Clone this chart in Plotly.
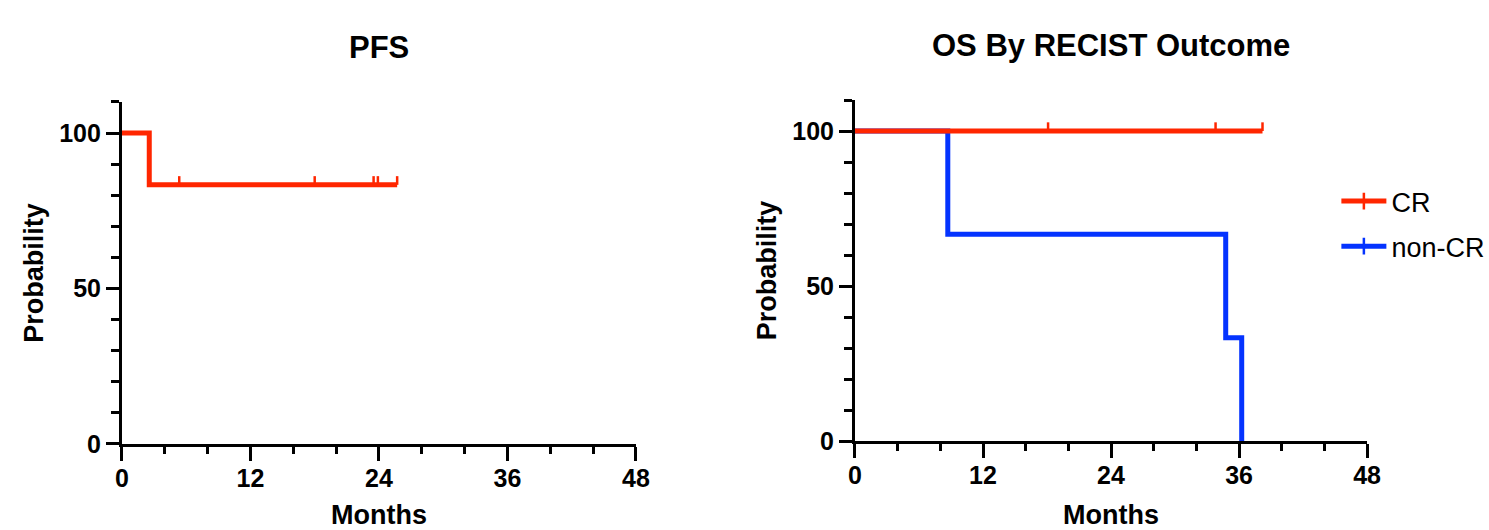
import plotly.graph_objects as go

# ---------------- data ----------------
pfs_time = [0, 2.55, 25.7]
pfs_surv = [100, 83.33, 83.33]
pfs_censor = [5.35, 18.0, 23.5, 23.9, 25.7]

os_cr_time = [0, 38.2]
os_cr_surv = [100, 100]
os_cr_censor = [18.1, 33.8, 38.2]

os_ncr_time = [0, 8.7, 34.75, 36.25]
os_ncr_surv = [100, 66.67, 33.33, 0]
os_ncr_censor = []

x_ticks = [0, 12, 24, 36, 48]
y_ticks = [0, 50, 100]

group_names = ["CR", "non-CR"]

# ---------------- style ----------------
RED = "#FF2600"
BLUE = "#0433FF"
FONT = "Arial, Liberation Sans, Helvetica, sans-serif"
CENSOR_H = 2.8  # height of censor tick in data units


def level_at(times, surv, t):
    lvl = surv[0]
    for tt, ss in zip(times, surv):
        if tt <= t:
            lvl = ss
    return lvl


def censor_segments(times, surv, cens):
    xs, ys = [], []
    for c in cens:
        s = level_at(times, surv, c)
        xs += [c, c, None]
        ys += [s, s + CENSOR_H, None]
    return xs, ys


fig = go.Figure()


def add_curve(times, surv, cens, color, xa, ya):
    fig.add_trace(go.Scatter(x=times, y=surv, mode="lines", line=dict(color=color, width=5, shape="hv"),
                             xaxis=xa, yaxis=ya, showlegend=False, hoverinfo="skip"))
    if cens:
        cx, cy = censor_segments(times, surv, cens)
        fig.add_trace(go.Scatter(x=cx, y=cy, mode="lines", line=dict(color=color, width=2.5),
                                 xaxis=xa, yaxis=ya, showlegend=False, hoverinfo="skip"))


# PFS
add_curve(pfs_time, pfs_surv, pfs_censor, RED, "x", "y")
# OS: non-CR first so CR is drawn on top
add_curve(os_ncr_time, os_ncr_surv, os_ncr_censor, BLUE, "x2", "y2")
add_curve(os_cr_time, os_cr_surv, os_cr_censor, RED, "x2", "y2")

# legend-only entries
for name, color in zip(group_names, [RED, BLUE]):
    fig.add_trace(go.Scatter(x=[None], y=[None], mode="lines+markers", name=name,
                             line=dict(color=color, width=5),
                             marker=dict(symbol="line-ns", size=12, line=dict(color=color, width=2.5)),
                             xaxis="x2", yaxis="y2", legendgroup=name))

axis_common = dict(
    showline=True, linecolor="black", linewidth=3,
    ticks="outside", tickcolor="black", tickwidth=3,
    showgrid=False, zeroline=False, fixedrange=True, automargin=False,
    tickfont=dict(family=FONT, size=25, color="black", weight="bold"),
)

xaxis_common = dict(axis_common, range=[0, 48], tickmode="array", tickvals=x_ticks, ticklen=14,
                    ticklabelstandoff=-4,
                    minor=dict(dtick=4, tick0=0, ticklen=7, tickwidth=3, tickcolor="black", ticks="outside"),
                    title=dict(text="Months", font=dict(family=FONT, size=27, color="black", weight="bold"),
                               standoff=19))
yaxis_common = dict(axis_common, range=[0, 110], tickmode="array", tickvals=y_ticks, ticklen=13,
                    minor=dict(dtick=10, tick0=0, ticklen=8, tickwidth=3, tickcolor="black", ticks="outside"),
                    title=dict(text="Probability", font=dict(family=FONT, size=27, color="black", weight="bold"),
                               standoff=8))

fig.update_layout(
    width=1489, height=530,
    margin=dict(l=0, r=0, t=0, b=0, autoexpand=False),
    paper_bgcolor="white", plot_bgcolor="white",
    xaxis=dict(xaxis_common, domain=[0.0819, 0.4271], anchor="y"),
    yaxis=dict(yaxis_common, domain=[0.1623, 0.8077], anchor="x"),
    xaxis2=dict(xaxis_common, domain=[0.5742, 0.9181], anchor="y2"),
    yaxis2=dict(yaxis_common, domain=[0.1679, 0.8113], anchor="x2"),
    showlegend=True,
    legend=dict(x=0.8975, y=0.666, xanchor="left", yanchor="top",
                font=dict(family=FONT, size=27, color="black"),
                itemwidth=45,
                tracegroupgap=7, bgcolor="rgba(0,0,0,0)"),
    annotations=[
        dict(text="PFS", xref="x domain", yref="paper", x=0.5, y=(530 - 48) / 530,
             xanchor="center", yanchor="middle", showarrow=False,
             font=dict(family=FONT, size=31, color="black", weight="bold")),
        dict(text="OS By RECIST Outcome", xref="x2 domain", yref="paper", x=0.5, y=(530 - 46) / 530,
             xanchor="center", yanchor="middle", showarrow=False,
             font=dict(family=FONT, size=31, color="black", weight="bold")),
    ],
)

fig.write_html("out.html", config={"displayModeBar": False},
               post_script="document.body.style.margin='0';document.body.style.overflow='hidden';")
